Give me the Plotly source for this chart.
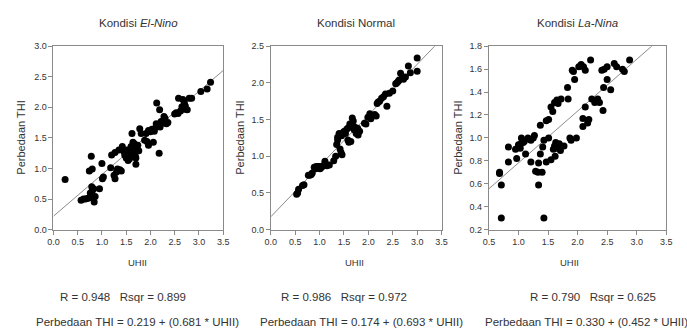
import plotly.graph_objects as go

W, H = 687, 334

# ---------------- data ----------------
elnino_uhii = [0.24, 0.74, 0.80, 0.78, 1.00, 0.76, 0.80, 0.83, 0.79, 0.95, 0.86, 0.84, 0.57, 0.62, 0.66,
               0.70, 0.74, 1.01, 1.03, 1.18, 1.27, 1.25, 1.32, 1.40, 1.20, 1.27, 1.35, 1.42, 1.47, 1.50,
               1.54, 1.52, 1.57, 1.59, 1.60, 1.62, 1.64, 1.66, 1.62, 1.68, 1.70, 1.70, 1.69, 1.72, 1.74,
               1.76, 1.67, 1.78, 1.81, 1.88, 1.93, 1.96, 1.91, 1.96, 2.06, 2.03, 2.08, 2.11, 2.15, 2.18,
               2.20, 2.22, 2.26, 2.28, 2.30, 2.33, 2.36, 2.13, 2.19, 2.18, 2.50, 2.53, 2.57, 2.62, 2.58,
               2.67, 2.70, 2.65, 2.72, 2.76, 2.71, 2.80, 2.85, 3.04, 3.17, 3.24, 1.45, 1.57, 1.65, 2.00,
               2.24, 2.12, 1.30, 1.37]
elnino_thi = [0.82, 0.96, 0.99, 1.20, 1.08, 0.60, 0.63, 0.67, 0.70, 0.67, 0.54, 0.45, 0.48, 0.50, 0.50,
              0.51, 0.52, 0.83, 0.86, 1.01, 0.83, 0.89, 0.99, 0.96, 1.22, 1.26, 1.30, 1.36, 1.22, 1.17,
              1.13, 1.30, 1.27, 1.25, 1.36, 1.33, 1.43, 1.41, 1.57, 1.28, 1.07, 1.17, 1.20, 1.36, 1.38,
              1.29, 1.40, 1.65, 1.57, 1.46, 1.44, 1.38, 1.57, 1.62, 1.43, 1.64, 1.61, 1.67, 1.71, 1.70,
              1.68, 1.77, 1.78, 1.85, 1.82, 1.73, 1.75, 2.07, 1.96, 1.25, 1.89, 1.91, 1.90, 1.94, 2.15,
              2.13, 2.07, 2.01, 2.02, 1.96, 1.97, 2.15, 2.15, 2.26, 2.30, 2.41, 1.28, 1.16, 1.30, 1.60,
              1.74, 1.73, 0.94, 0.98]

normal_uhii = [0.55, 0.53, 0.57, 0.65, 0.68, 0.77, 0.80, 0.83, 0.85, 0.89, 0.92, 0.95, 0.97, 1.01, 1.04,
               1.07, 1.11, 1.15, 1.20, 1.29, 1.33, 1.44, 1.46, 1.42, 1.35, 1.37, 1.37, 1.42, 1.45, 1.47,
               1.51, 1.53, 1.56, 1.59, 1.60, 1.64, 1.62, 1.67, 1.69, 1.72, 1.71, 1.76, 1.78, 1.79, 1.82,
               1.75, 1.92, 1.95, 1.99, 2.03, 2.05, 2.09, 2.13, 2.16, 2.18, 2.23, 2.27, 2.31, 2.35, 2.38,
               2.43, 2.50, 2.56, 2.58, 2.61, 2.63, 2.66, 2.70, 2.72, 2.76, 2.82, 2.86, 3.00, 3.00, 1.58,
               1.49, 1.40, 2.06, 2.20, 1.00, 0.93]
normal_thi = [0.50, 0.48, 0.55, 0.60, 0.61, 0.74, 0.74, 0.75, 0.77, 0.85, 0.83, 0.84, 0.86, 0.83, 0.85,
              0.87, 0.93, 0.87, 0.88, 0.94, 1.00, 1.05, 1.02, 1.10, 1.16, 1.22, 1.26, 1.29, 1.28, 1.31,
              1.34, 1.31, 1.37, 1.39, 1.19, 1.20, 1.44, 1.52, 1.48, 1.40, 1.36, 1.36, 1.38, 1.29, 1.34,
              1.31, 1.45, 1.44, 1.53, 1.58, 1.51, 1.55, 1.57, 1.55, 1.72, 1.75, 1.79, 1.81, 1.85, 1.68,
              1.86, 1.89, 1.99, 2.00, 2.02, 2.04, 2.13, 2.07, 2.05, 2.08, 2.23, 2.14, 2.16, 2.34, 1.22,
              1.33, 1.31, 1.55, 1.74, 0.86, 0.86]

lanina_uhii = [0.71, 1.43, 0.68, 0.68, 0.71, 0.83, 0.83, 0.97, 0.95, 1.00, 1.03, 1.05, 1.08, 1.10, 1.12,
               1.16, 1.21, 1.25, 1.27, 1.21, 1.29, 1.33, 1.40, 1.34, 1.34, 1.37, 1.41, 1.43, 1.37, 1.47,
               1.47, 1.51, 1.51, 1.55, 1.55, 1.61, 1.62, 1.63, 1.65, 1.67, 1.61, 1.65, 1.71, 1.77, 1.83,
               1.84, 1.87, 1.89, 1.91, 1.95, 1.98, 2.02, 2.06, 2.13, 2.22, 2.09, 2.09, 2.13, 2.17, 2.19,
               2.24, 2.29, 2.34, 2.37, 2.43, 2.41, 2.45, 2.50, 2.44, 2.50, 2.56, 2.62, 2.66, 2.76, 2.79,
               2.88, 1.93, 2.10, 1.58, 1.72, 1.00, 1.04, 1.59, 1.69]
lanina_thi = [0.30, 0.30, 0.70, 0.69, 0.59, 0.79, 0.92, 0.82, 0.90, 0.94, 0.91, 1.00, 0.96, 0.97, 0.86,
              1.00, 0.98, 1.00, 1.02, 0.79, 0.71, 0.70, 0.70, 0.78, 0.59, 1.11, 0.92, 0.98, 0.86, 0.79,
              1.15, 1.16, 1.00, 0.81, 1.27, 1.31, 0.84, 0.96, 1.33, 1.30, 0.93, 0.91, 0.89, 0.93, 1.44,
              1.34, 1.00, 0.98, 1.59, 1.51, 1.00, 1.62, 1.64, 1.59, 1.68, 1.17, 1.10, 1.27, 1.13, 1.16,
              1.34, 1.31, 1.34, 1.31, 1.24, 1.59, 1.60, 1.62, 1.44, 1.51, 1.42, 1.65, 1.62, 1.60, 1.58,
              1.68, 1.58, 1.62, 1.23, 1.34, 0.92, 0.95, 0.90, 0.95]

titles = ["Kondisi <i>El-Nino</i>", "Kondisi Normal", "Kondisi <i>La-Nina</i>"]
r_values = [0.948, 0.986, 0.790]
rsqr_values = [0.899, 0.972, 0.625]
intercepts = [0.219, 0.174, 0.330]
slopes = [0.681, 0.693, 0.452]
x_ranges = [[0, 3.5], [0, 3.5], [0.5, 3.5]]
y_ranges = [[0, 3.0], [0, 2.5], [0.2, 1.8]]
y_dticks = [0.5, 0.5, 0.2]

# ---------------- layout geometry (pixels) ----------------
px_left = [48.3, 269.5, 491.5]
px_right = [221.0, 443.3, 672.0]
py_top, py_bot = 42.5, 231.5
ytitle_x = [15, 238, 460]
uhii_x = [134, 355, 574]
r_x = [53, 278, 531]
eq_x = [28, 256, 485]
r_y, eq_y = 301, 327


def fx(p):
    return p / W


def fy(p):
    return 1 - p / H


fig = go.Figure()
series = [(elnino_uhii, elnino_thi), (normal_uhii, normal_thi), (lanina_uhii, lanina_thi)]
font_fam = "Liberation Sans, Arial, sans-serif"
axis_col = "#8a8a8a"
text_col = "#333333"

annotations = []
for i, (xs, ys) in enumerate(series):
    xa = "x" if i == 0 else f"x{i+1}"
    ya = "y" if i == 0 else f"y{i+1}"
    x0, x1 = x_ranges[i]
    fig.add_trace(go.Scatter(x=[x0, x1], y=[intercepts[i] + slopes[i] * x0, intercepts[i] + slopes[i] * x1],
                             mode="lines", line=dict(color="#8c8c8c", width=1), xaxis=xa, yaxis=ya,
                             showlegend=False, hoverinfo="skip"))
    fig.add_trace(go.Scatter(x=xs, y=ys, mode="markers", marker=dict(color="black", size=7),
                             xaxis=xa, yaxis=ya, showlegend=False, cliponaxis=False))

    common = dict(showline=True, mirror=True, linecolor=axis_col, linewidth=1, ticks="outside",
                  ticklen=4, tickcolor=axis_col, showgrid=False, zeroline=False, tickformat=".1f",
                  tickfont=dict(family=font_fam, size=9, color=text_col))
    xkey = "xaxis" if i == 0 else f"xaxis{i+1}"
    ykey = "yaxis" if i == 0 else f"yaxis{i+1}"
    fig.update_layout(**{
        xkey: dict(domain=[fx(px_left[i]), fx(px_right[i])], range=x_ranges[i], dtick=0.5,
                   tick0=0, anchor=ya, **common),
        ykey: dict(domain=[fy(py_bot), fy(py_top)], range=y_ranges[i], dtick=y_dticks[i],
                   tick0=0, anchor=xa, **common),
    })

    cx = (px_left[i] + px_right[i]) / 2
    annotations += [
        dict(text=titles[i], x=fx(cx), y=fy(19), xref="paper", yref="paper", showarrow=False,
             xanchor="center", yanchor="middle", font=dict(family=font_fam, size=11.5, color=text_col)),
        dict(text="Perbedaan THI", x=fx(ytitle_x[i]), y=fy((py_top + py_bot) / 2), xref="paper",
             yref="paper", showarrow=False, textangle=-90, xanchor="center", yanchor="middle",
             font=dict(family=font_fam, size=11, color=text_col)),
        dict(text="UHII", x=fx(uhii_x[i]), y=fy(265), xref="paper", yref="paper", showarrow=False,
             xanchor="center", yanchor="middle", font=dict(family=font_fam, size=9.5, color=text_col)),
        dict(text=f"R = {r_values[i]:.3f}   Rsqr = {rsqr_values[i]:.3f}", x=fx(r_x[i]), y=fy(r_y),
             xref="paper", yref="paper", showarrow=False, xanchor="left", yanchor="middle",
             font=dict(family=font_fam, size=11.5, color=text_col)),
        dict(text=f"Perbedaan THI = {intercepts[i]:.3f} + ({slopes[i]:.3f} * UHII)", x=fx(eq_x[i]),
             y=fy(eq_y), xref="paper", yref="paper", showarrow=False, xanchor="left", yanchor="middle",
             font=dict(family=font_fam, size=11.5, color=text_col)),
    ]

fig.update_layout(width=W, height=H, margin=dict(l=0, r=0, t=0, b=0), paper_bgcolor="white",
                  plot_bgcolor="white", annotations=annotations, showlegend=False)

fig.write_html("out.html")
